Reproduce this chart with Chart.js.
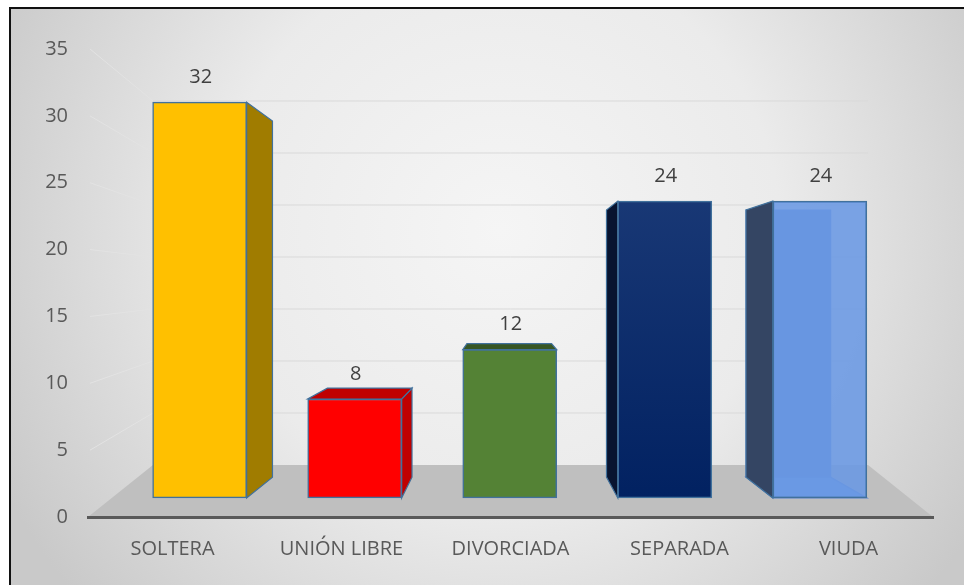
<!DOCTYPE html>
<html>
<head>
<meta charset="utf-8">
<script src="https://cdn.jsdelivr.net/npm/chart.js@4.4.1/dist/chart.umd.min.js"></script>
<style>
  html, body { margin: 0; padding: 0; background: #fff; }
  canvas { display: block; }
</style>
</head>
<body>
<canvas id="chart" width="964" height="585"></canvas>
<script>
const estadoCivil = ["SOLTERA", "UNIÓN LIBRE", "DIVORCIADA", "SEPARADA", "VIUDA"]
const frecuencia = [32, 8, 12, 24, 24]
const ejeY = [0, 5, 10, 15, 20, 25, 30, 35]

// colores de cada barra: cara frontal, lateral y superior
const frente = ["#ffc000", "#ff0000", "#548235", "#14306e", "rgba(106,152,228,0.88)"]
const lateral = ["#a07c00", "#c00000", "#385723", "#081430", "#344563"]
const tapa = ["#b38b00", "#c00000", "#375623", "#1a2f60", "#4a6fb5"]
const transparente = [false, false, false, false, true]
const borde = "#41719c"

const FONT = "'Open Sans', 'Noto Sans', sans-serif"

// punto de fuga de la perspectiva y profundidad de las barras
const VP = { x: 505, y: 290 }
const DEPTH = 0.1

const atras = (x, y) => ({ x: x + (VP.x - x) * DEPTH, y: y + (VP.y - y) * DEPTH })

const poly = (ctx, pts, fill, stroke) => {
    ctx.beginPath()
    ctx.moveTo(pts[0].x, pts[0].y)
    pts.slice(1).forEach((p) => ctx.lineTo(p.x, p.y))
    ctx.closePath()
    if (fill) {
        ctx.fillStyle = fill
        ctx.fill()
    }
    if (stroke) {
        ctx.strokeStyle = stroke
        ctx.lineWidth = 1.2
        ctx.stroke()
    }
}

const line = (ctx, x0, y0, x1, y1, color, w) => {
    ctx.beginPath()
    ctx.moveTo(x0, y0)
    ctx.lineTo(x1, y1)
    ctx.strokeStyle = color
    ctx.lineWidth = w
    ctx.stroke()
}

const escena = {
    id: "escena",
    beforeDraw(chart) {
        const { ctx, chartArea, scales } = chart
        ctx.save()
        ctx.fillStyle = "#fff"
        ctx.fillRect(0, 0, chart.width, chart.height)

        const g = ctx.createRadialGradient(500, 230, 0, 500, 230, 560)
        g.addColorStop(0, "#f5f5f5")
        g.addColorStop(0.5, "#ebebeb")
        g.addColorStop(1, "#c9c9c9")
        ctx.fillStyle = g
        ctx.fillRect(10, 8, chart.width - 10, chart.height - 8)
        line(ctx, 9, 8, chart.width, 8, "#111", 2)
        line(ctx, 10, 7, 10, chart.height, "#111", 2)

        // suelo
        const wall = scales.yw
        const left = chartArea.left
        const right = chartArea.right
        const inset = 65
        const backY = wall.getPixelForValue(0)
        poly(ctx, [
            { x: left, y: chartArea.bottom },
            { x: right, y: chartArea.bottom },
            { x: right - inset, y: backY },
            { x: left + inset, y: backY },
        ], "#bfbfbf")

        // rejilla de la pared del fondo y pared izquierda
        ejeY.slice(1).forEach((v) => {
            const by = wall.getPixelForValue(v)
            line(ctx, left + inset, by, right - inset, by, "#d9d9d9", 1)
            line(ctx, left + 2, scales.y.getPixelForValue(v), left + inset, by, "#e3e3e3", 1)
        })
        ctx.restore()
    },
    beforeDatasetsDraw(chart) {
        const ctx = chart.ctx
        ctx.save()
        chart.getDatasetMeta(0).data.forEach((bar, i) => {
            const { x, y, base, width } = bar.getProps(["x", "y", "base", "width"], true)
            const l = x - width / 2
            const r = x + width / 2
            const ftl = { x: l, y }
            const ftr = { x: r, y }
            const fbl = { x: l, y: base }
            const fbr = { x: r, y: base }
            const btl = atras(l, y)
            const btr = atras(r, y)
            const bbl = atras(l, base)
            const bbr = atras(r, base)

            if (transparente[i]) {
                poly(ctx, [btl, btr, bbr, bbl], "rgba(84,128,206,0.95)", "#5b86d2")
                poly(ctx, [bbl, bbr, fbr, fbl], "#6a98e0", "#5b86d2")
            }
            if (r < VP.x) poly(ctx, [ftr, btr, bbr, fbr], lateral[i], borde)
            if (l > VP.x) poly(ctx, [ftl, btl, bbl, fbl], lateral[i], borde)
            if (y > VP.y) poly(ctx, [ftl, ftr, btr, btl], tapa[i], borde)
        })
        ctx.restore()
    },
    afterDatasetsDraw(chart) {
        const ctx = chart.ctx
        ctx.save()
        ctx.font = "20px " + FONT
        ctx.fillStyle = "#404040"
        ctx.textAlign = "center"
        ctx.textBaseline = "middle"
        chart.getDatasetMeta(0).data.forEach((bar, i) => {
            const { x, y } = bar.getProps(["x", "y"], true)
            ctx.fillText(String(frecuencia[i]), x + 1, y - 25)
        })
        ctx.restore()
    },
}

new Chart(document.getElementById("chart"), {
    type: "bar",
    data: {
        labels: estadoCivil,
        datasets: [
            {
                data: frecuencia.map((v, i) => ({ x: i, y: v })),
                xAxisID: "xb",
                yAxisID: "yb",
                barThickness: 94,
                backgroundColor: (c) => {
                    const area = c.chart.chartArea
                    if (c.dataIndex !== 3 || !area) return frente[c.dataIndex]
                    const g = c.chart.ctx.createLinearGradient(0, area.top, 0, area.bottom)
                    g.addColorStop(0, "#24437f")
                    g.addColorStop(1, "#002060")
                    return g
                },
                borderColor: borde,
                borderWidth: 1.5,
                borderSkipped: false,
            },
        ],
    },
    options: {
        responsive: false,
        animation: false,
        devicePixelRatio: 1,
        layout: { padding: { left: 20, top: 49, right: 31, bottom: 0 } },
        plugins: {
            legend: { display: false },
            tooltip: { enabled: false },
        },
        scales: {
            x: {
                type: "category",
                offset: true,
                grid: { display: false, drawTicks: false },
                border: { display: true, color: "#595959", width: 3 },
                ticks: { padding: 20, color: "#595959", font: { family: FONT, size: 20 } },
                afterFit: (s) => {
                    s.height = 68
                },
            },
            y: {
                type: "linear",
                position: "left",
                min: 0,
                max: 35,
                grid: { display: false, drawTicks: false },
                border: { display: false },
                ticks: { stepSize: 5, padding: 20, color: "#595959", font: { family: FONT, size: 20 } },
                afterFit: (s) => {
                    s.width = 68
                },
            },
            xb: { type: "linear", display: false, offset: false, min: -0.72, max: 4.73 },
            yb: { type: "linear", display: false, min: -1.54, max: 36.3 },
            yw: { type: "linear", display: false, min: -5, max: 40 },
        },
    },
    plugins: [escena],
})
</script>
</body>
</html>
